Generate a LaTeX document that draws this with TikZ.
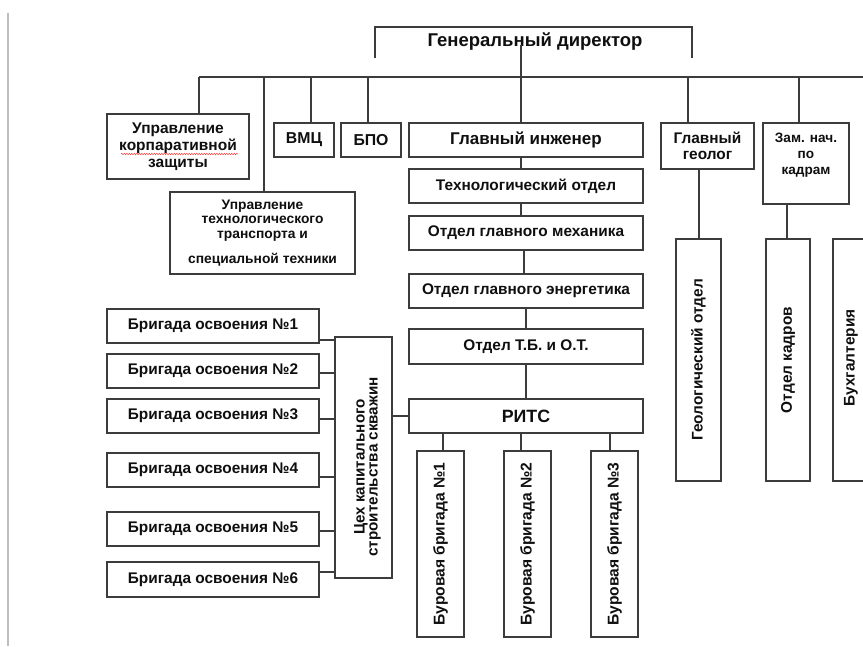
\documentclass[tikz,border=0pt]{standalone}
\usepackage{fontspec}
\setmainfont{Liberation Sans}
\usetikzlibrary{decorations.pathmorphing}
\definecolor{linec}{RGB}{60,60,60}
\definecolor{edgec}{RGB}{190,190,190}
\definecolor{txt}{RGB}{15,15,15}
\newcommand{\fs}[2]{\fontsize{#1}{#2}\selectfont\bfseries}
\newcommand{\vtext}[1]{\rotatebox{90}{#1}}
\tikzset{
  box/.style={draw=linec, line width=1.1pt, inner sep=0pt, align=center, text=txt, font=\fs{15.4}{17}},
  lbl/.style={text=txt, inner sep=0pt, align=center},
  conn/.style={draw=linec, line width=1.1pt},
}
\begin{document}
\begin{tikzpicture}[x=1pt,y=-1pt]
\useasboundingbox (0,0) rectangle (863,646);
\clip (0,0) rectangle (863,646);
\fill[white] (0,0) rectangle (863,646);
\draw[edgec, line width=1.3pt] (8,13) -- (8,646);

% General director (open frame)
\draw[conn] (375,58) -- (375,27) -- (692,27) -- (692,58);
\node[lbl, font=\fs{18.5}{20}] (gd) at (535,42) {Генеральный директор};
\coordinate (gdl) at (521,45);
\coordinate (bus) at (0,77);

% top row
\node[box, minimum width=142, minimum height=65, font=\fs{15.5}{17}] (kz) at (178,146.5) {Управление\\корпаративной\\защиты};
\node[box, minimum width=185, minimum height=82, font=\fs{13.8}{14.5}] (ut) at (262.5,233) {Управление\\технологического\\транспорта  и\\[11pt]специальной техники};
\node[box, minimum width=60, minimum height=34, font=\fs{15.8}{17}] (vmc) at (304,140) {ВМЦ};
\node[box, minimum width=60, minimum height=34, font=\fs{15.8}{17}] (bpo) at (371,140) {БПО};
\node[box, minimum width=234, minimum height=34, font=\fs{17}{19}] (gi) at (526,140) {Главный инженер};
\node[box, minimum width=93, minimum height=46, font=\fs{15.4}{16}] (gg) at (707.5,146) {Главный\\геолог};
\node[box, minimum width=86, minimum height=81] (zk) at (806,163.5) {};
\node[lbl, font=\fs{13.6}{16}] (zkT) at (806,155.5) {Зам. нач.\\по\\кадрам};

% chief engineer column
\node[box, minimum width=234, minimum height=34] (to) at (526,186) {Технологический отдел};
\node[box, minimum width=234, minimum height=34] (om) at (526,233) {Отдел главного механика};
\node[box, minimum width=234, minimum height=34] (oe) at (526,291) {Отдел главного энергетика};
\node[box, minimum width=234, minimum height=35] (tb) at (526,346.5) {Отдел Т.Б. и О.Т.};
\node[box, minimum width=234, minimum height=34, font=\fs{17.8}{19}] (rits) at (526,416) {РИТС};

% drilling brigades
\node[box, minimum width=47, minimum height=186, font=\fs{15.6}{17}] (bb1) at (440.5,544) {\vtext{Буровая бригада №1}};
\node[box, minimum width=47, minimum height=186, font=\fs{15.6}{17}] (bb2) at (527.5,544) {\vtext{Буровая бригада №2}};
\node[box, minimum width=47, minimum height=186, font=\fs{15.6}{17}] (bb3) at (614.5,544) {\vtext{Буровая бригада №3}};

% right column boxes
\node[box, minimum width=45, minimum height=242] (god) at (698.5,360) {\vtext{Геологический отдел}};
\node[box, minimum width=44, minimum height=242] (ok) at (788,360) {\vtext{Отдел кадров}};
\node[box, minimum width=46, minimum height=242] (bux) at (856,360) {};
\node[lbl, font=\fs{15.4}{17}] (buxT) at (851,358) {\vtext{Бухгалтерия}};

% workshop and brigades
\node[box, minimum width=57, minimum height=241] (ceh) at (363.5,457.5) {};
\node[lbl, font=\fs{15.2}{15}] (cehT) at (368,467) {\vtext{\begin{tabular}{@{}c@{}}Цех капитального\\[-2pt]строительства скважин\end{tabular}}};
\node[box, minimum width=212, minimum height=34] (bo1) at (213,326) {Бригада освоения №1};
\node[box, minimum width=212, minimum height=34] (bo2) at (213,371) {Бригада освоения №2};
\node[box, minimum width=212, minimum height=34] (bo3) at (213,416) {Бригада освоения №3};
\node[box, minimum width=212, minimum height=34] (bo4) at (213,470) {Бригада освоения №4};
\node[box, minimum width=212, minimum height=34] (bo5) at (213,529) {Бригада освоения №5};
\node[box, minimum width=212, minimum height=35] (bo6) at (213,579.5) {Бригада освоения №6};

% spelling squiggle
\draw[red!75, line width=0.5pt, decorate, decoration={snake, amplitude=0.7pt, segment length=2.5pt}] (121,154) -- (238,154);

% connectors
\draw[conn] (199,77) -- (870,77);
\draw[conn] (199,77) -- (199,0 |- kz.north);
\draw[conn] (264,77) -- (264,0 |- ut.north);
\draw[conn] (311,77) -- (311,0 |- vmc.north);
\draw[conn] (368,77) -- (368,0 |- bpo.north);
\draw[conn] (gdl) -- (gdl |- gi.north);
\draw[conn] (688,77) -- (688,0 |- gg.north);
\draw[conn] (799,77) -- (799,0 |- zk.north);
\draw[conn] (870,77) -- (870,0 |- bux.north);

\draw[conn] (521,0 |- gi.south) -- (521,0 |- to.north);
\draw[conn] (521,0 |- to.south) -- (521,0 |- om.north);
\draw[conn] (524,0 |- om.south) -- (524,0 |- oe.north);
\draw[conn] (526,0 |- oe.south) -- (526,0 |- tb.north);
\draw[conn] (tb.south) -- (rits.north);

\draw[conn] (443,0 |- rits.south) -- (443,0 |- bb1.north);
\draw[conn] (521,0 |- rits.south) -- (521,0 |- bb2.north);
\draw[conn] (610,0 |- rits.south) -- (610,0 |- bb3.north);

\draw[conn] (699,0 |- gg.south) -- (699,0 |- god.north);
\draw[conn] (787,0 |- zk.south) -- (787,0 |- ok.north);

\draw[conn] (ceh.east |- rits.west) -- (rits.west);
\draw[conn] (bo1.east |- 0,340) -- (ceh.west |- 0,340);
\draw[conn] (bo2.east |- 0,373) -- (ceh.west |- 0,373);
\draw[conn] (bo3.east |- 0,419) -- (ceh.west |- 0,419);
\draw[conn] (bo4.east |- 0,477) -- (ceh.west |- 0,477);
\draw[conn] (bo5.east |- 0,531) -- (ceh.west |- 0,531);
\draw[conn] (bo6.east |- 0,572) -- (ceh.west |- 0,572);
\end{tikzpicture}
\end{document}
